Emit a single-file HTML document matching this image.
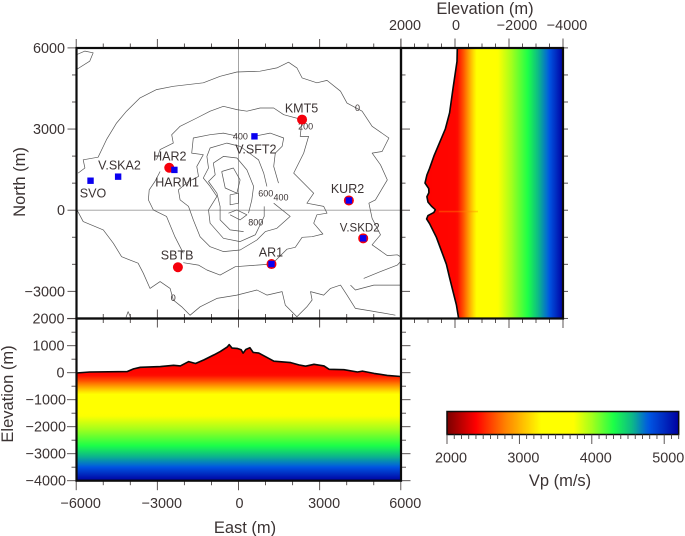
<!DOCTYPE html>
<html lang="en">
<head>
<meta charset="utf-8">
<title>Vp model sections</title>
<style>
html,body{margin:0;padding:0;background:#fff;}
#chart{display:block;position:absolute;left:0;top:0;}
text{font-family:"Liberation Sans",sans-serif;fill:#3b3333;}
</style>
</head>
<body>
<svg id="chart" xmlns="http://www.w3.org/2000/svg" width="685" height="536" viewBox="0 0 685 536"></svg>
<script>
// Topographic contours, flat lists of East,North pairs in metres
const contour0North = [-5930,1370,-5680,1560,-5740,1865,-5190,1960,-5000,2360,-4880,2610,-4510,3220,-4140,3660,-3640,4150,-3030,4460,-2410,4580,-1300,4710,-680,4950,-60,5110,800,5140,1420,5260,1850,5470,2160,5260,2350,4890,2900,4710,3270,4800,3770,4400,4010,3960,4570,3660,4940,3100,5560,2670,5310,2170,4940,2110,5250,1680,5500,1120,5060,380,4820,260,4940,-300,5250,-910,4940,-1280,5500,-1680,5870,-1650,5990,-1720];
const contour0South = [-5970,10,-5740,-420,-5000,-730,-4630,-1220,-4320,-1720,-3710,-1960,-3520,-2330,-3270,-2890,-2900,-2640,-2530,-2890,-2410,-3320,-2100,-3570,-1790,-3880,-1420,-3570,-800,-3260,-60,-3140,680,-2950,1050,-3140,1610,-3010,1730,-3510,2160,-3940,2530,-3570,2720,-3320,2660,-3010,3150,-3140,3400,-2890,3770,-2770,4010,-3140,4320,-3630,4940,-3730,5800,-3880];
const contour0EastA = [4140,-2770,4320,-2950,5000,-2770,5990,-2770];
const contour0EastB = [4630,-2520,5250,-2270,5870,-2030,5990,-1900];
const contour0Islet = [-5990,5750,-5680,5880,-5370,5820,-5500,5510,-5990,5200];
const contour0Loop = [-4160,-3960,-4080,-3750,-3990,-3960];
const contour200North = [2350,3350,1670,3530,1300,3780,800,3780,310,3660,-60,3720,-560,3840,-1050,3660,-1540,3410,-2160,3100,-2470,2790,-2410,2480,-2900,2240,-3030,1865];
const contour200South = [-2900,1430,-3090,1060,-3300,750,-3330,380,-3150,10,-2660,-230,-2350,-980,-2040,-1590];
const contour200East = [-2040,-1940,-1480,-2030,-1170,-2210,-680,-2400,-120,-2090,680,-2030,1240,-1990,1790,-1440,2100,-1370,2350,-1000,2720,-980,3120,-880,2780,-480,2900,-170,3270,-110,3150,140,2530,260,2780,630,2530,880,2040,1370,2410,2110,2590,2730,2280,2730,2350,3350];
const contour400North = [560,2730,1170,2850,1670,2670,1610,2360,1360,2110,1300,1620,1480,1000];
const contour400South = [1300,260,1910,-230,1420,-670,990,-790,680,-1100,60,-1470,-560,-1530,-1050,-1350,-1420,-980,-1670,-360,-1850,140,-2160,380,-2220,750,-1850,1060,-1480,1250,-1540,1620,-1300,2050,-1730,2110,-1670,2670,-1050,2790,-560,2850,-100,2750];
const contour600East = [-1110,10,-1050,-480,-560,-1040,60,-1160,620,-910,950,-230,950,140];
const contour600North = [1050,880,930,1370,740,1865,60,2360,-430,2480,-1050,2300,-1170,1990,-1110,1560,-1300,1190,-1050,880,-800,510,-1110,10];
const contour800Main = [-930,1740,-560,1990,-60,1930,310,1490,560,880,490,380,370,-110];
const contour800South = [190,-790,-310,-730,-680,-360,-680,140,-800,630,-1110,1060,-860,1310,-930,1740];
const contourSummitA = [-620,1430,-190,1560,60,1120,-60,630,-490,820,-620,1430];
const contourSummitB = [-310,570,0,630,0,260,-310,200,-310,570];
const contourCrater = [-370,-110,-60,10,310,-170,60,-360,-310,-170];
const contourSets = [contour0North,contour0South,contour0EastA,contour0EastB,contour0Islet,contour0Loop,contour200North,contour200South,contour200East,contour400North,contour400South,contour600East,contour600North,contour800Main,contour800South,contourSummitA,contourSummitB,contourCrater];

// Contour labels
const contourLabelText = ["0","200","400","600","400","800","0"];
const contourLabelEast = [4400,2480,70,1010,1570,640,-2410];
const contourLabelNorth = [3780,3100,2730,620,470,-460,-3250];

// Stations
const redStationNames = ["HAR2","KMT5","KUR2","V.SKD2","AR1","SBTB"];
const redStationEast = [-2560,2350,4080,4610,1220,-2240];
const redStationNorth = [1570,3350,360,-1040,-1990,-2110];
const blueStationNames = ["SVO","V.SKA2","HARM1","V.SFT2","KUR2","V.SKD2","AR1"];
const blueStationEast = [-5470,-4450,-2370,590,4080,4610,1220];
const blueStationNorth = [1090,1240,1490,2730,360,-1040,-1990];
const stationLabelText = ["KMT5","HAR2","V.SKA2","SVO","HARM1","V.SFT2","KUR2","V.SKD2","SBTB","AR1"];
const stationLabelEast = [2330,-2540,-4400,-5380,-2270,640,4030,4480,-2270,1200];
const stationLabelNorth = [3770,2000,1670,630,1040,2260,810,-630,-1650,-1550];

// Elevation profile along East-West section
const ewEast = [-6000,-5500,-4120,-3880,-3630,-2890,-2400,-2150,-1840,-1590,-1280,-910,-670,-420,-345,-235,-50,100,170,270,420,545,750,1060,1310,1930,2230,2480,2790,3160,3350,3900,4400,4580,5010,5500,6000];
const ewElevation = [-10,25,40,140,200,225,275,250,410,340,475,660,790,950,1040,910,900,850,725,860,925,750,725,560,425,375,290,240,310,250,125,110,25,60,-25,-100,-140];

// Elevation profile along North-South section
const nsNorth = [6000,5500,4500,3600,3000,2500,2000,1550,1300,1000,800,650,500,300,150,20,-80,-200,-320,-500,-1000,-1500,-2000,-2500,-3000,-3500,-4000];
const nsElevation = [-85,-75,75,200,360,570,780,940,1040,1110,975,965,1040,1000,875,730,780,1000,1050,940,690,505,320,200,75,-50,-135];

// Velocity against elevation
const modelElevation = [2000,-80,-350,-600,-800,-1480,-2700,-3070,-3440,-4000];
const modelVp = [2400,2420,2700,3050,3320,3700,4300,4550,4750,5200];

// Colour palette
const paletteVp = [2000,2400,2800,3300,3750,4000,4300,4560,4780,5200];
const paletteColor = ["#7a0000","#ff0000","#ff8000","#ffff00","#ffff00","#a4ff1c","#1cff48","#0cb888","#0058e4","#0000a0"];

// Tick labels and values
const mapEastTicks = [-6000,-3000,0,3000,6000];
const mapNorthTicks = [6000,3000,0,-3000];
const mapNorthTickLabels = ["6000","3000","0","\u22123000"];
const eastTickLabels = ["\u22126000","\u22123000","0","3000","6000"];
const sectionElevTicks = [2000,1000,0,-1000,-2000,-3000,-4000];
const sectionElevLabels = ["2000","1000","0","\u22121000","\u22122000","\u22123000","\u22124000"];
const topElevTicks = [2000,0,-2000,-4000];
const topElevLabels = ["2000","0","\u22122000","\u22124000"];
const barTicks = [2000,3000,4000,5000];
const barLabels = ["2000","3000","4000","5000"];

// Panel geometry and axis functions
const xEast = e => 238.5 + e * 0.02705;
const yNorth = n => 210.2 + -n * 0.02705;
const xElev = z => 455 - z * 0.027;
const yElev = z => 372.7 - z * 0.027;
const xVp = v => 447 + (v - 2000) * 0.0724;
const MAP = {l:76.5, r:401, t:48, b:318.5};

const svg = document.getElementById('chart');
const NS = 'http://www.w3.org/2000/svg';
function make(tag, attrs, parent){
  const n = document.createElementNS(NS, tag);
  for (const k in attrs) n.setAttribute(k, attrs[k]);
  (parent || svg).appendChild(n);
  return n;
}
function group(parent){ return make('g', {}, parent); }
function lerp(a,b,t){ return a+(b-a)*t; }
function hexRgb(h){ return [parseInt(h.substr(1,2),16),parseInt(h.substr(3,2),16),parseInt(h.substr(5,2),16)]; }
function vpColor(v){
  let i = 0;
  while (i < paletteVp.length-2 && v > paletteVp[i+1]) i++;
  const t = Math.max(0,Math.min(1,(v-paletteVp[i])/(paletteVp[i+1]-paletteVp[i])));
  const a = hexRgb(paletteColor[i]), b = hexRgb(paletteColor[i+1]);
  return 'rgb('+Math.round(lerp(a[0],b[0],t))+','+Math.round(lerp(a[1],b[1],t))+','+Math.round(lerp(a[2],b[2],t))+')';
}
function elevToVp(z){
  let i = 0;
  while (i < modelElevation.length-2 && z < modelElevation[i+1]) i++;
  const t = Math.max(0,Math.min(1,(z-modelElevation[i])/(modelElevation[i+1]-modelElevation[i])));
  return lerp(modelVp[i],modelVp[i+1],t);
}
function tick(parent,x1,y1,x2,y2){
  return make('line',{x1:x1,y1:y1,x2:x2,y2:y2,stroke:'#4a4444','stroke-width':0.9},parent);
}
function label(parent,txt,x,y,size,anchor,rot){
  const a = {x:x,y:y,'font-size':size,'text-anchor':anchor||'middle'};
  if (rot) a.transform = 'rotate('+rot+' '+x+' '+y+')';
  const t = make('text',a,parent);
  t.textContent = txt;
  return t;
}

const defs = make('defs',{});
const clip = make('clipPath',{id:'map-clip'},defs);
make('rect',{x:MAP.l,y:MAP.t,width:MAP.r-MAP.l,height:MAP.b-MAP.t},clip);

// Gradients computed from the velocity model
const gradV = make('linearGradient',{id:'grad-vertical',gradientUnits:'userSpaceOnUse',x1:0,x2:0,y1:yElev(2000),y2:yElev(-4000)},defs);
const gradH = make('linearGradient',{id:'grad-horizontal',gradientUnits:'userSpaceOnUse',y1:0,y2:0,x1:xElev(2000),x2:xElev(-4000)},defs);
for (let z = 2000; z >= -4000; z -= 100){
  const off = (2000 - z) / 6000;
  make('stop',{offset:off,'stop-color':vpColor(elevToVp(z))},gradV);
  make('stop',{offset:off,'stop-color':vpColor(elevToVp(z))},gradH);
}
const gradBar = make('linearGradient',{id:'grad-bar',gradientUnits:'userSpaceOnUse',y1:0,y2:0,x1:xVp(2000),x2:xVp(5200)},defs);
for (let v = 2000; v <= 5200; v += 50){
  make('stop',{offset:(v-2000)/3200,'stop-color':vpColor(v)},gradBar);
}

// ---------- Map panel ----------
const mapPanel = group();



const crossV = make('line',{x1:xEast(0),x2:xEast(0),y1:MAP.t,y2:MAP.b,stroke:'#9a9a9a','stroke-width':0.9},mapPanel);


const crossH = make('line',{x1:MAP.l,x2:MAP.r,y1:yNorth(0),y2:yNorth(0),stroke:'#9a9a9a','stroke-width':0.9},mapPanel);



const contourGroup = make('g',{'clip-path':'url(#map-clip)'},mapPanel);


contourSets.forEach(function(c){
  let d = '';
  for (let i = 0; i < c.length; i += 2){
    d += (i ? 'L' : 'M') + xEast(c[i]).toFixed(1) + ' ' + yNorth(c[i+1]).toFixed(1);
  }
  const p = make('path',{d:d,fill:'none',stroke:'#555','stroke-width':0.7,'stroke-linejoin':'round'},contourGroup);
  
  
});
contourLabelText.forEach(function(t,i){
  const n = label(mapPanel,t,xEast(contourLabelEast[i]),yNorth(contourLabelNorth[i])+3,9);
  
  
});

redStationNames.forEach(function(s,i){
  const c = make('circle',{cx:xEast(redStationEast[i]),cy:yNorth(redStationNorth[i]),r:5,fill:'#f5000c'},mapPanel);
  
  
});
blueStationNames.forEach(function(s,i){
  const r = make('rect',{x:xEast(blueStationEast[i])-3.2,y:yNorth(blueStationNorth[i])-3.2,width:6.4,height:6.4,fill:'#0a00f0'},mapPanel);
  
  
});
stationLabelText.forEach(function(t,i){
  const n = label(mapPanel,t,xEast(stationLabelEast[i]),yNorth(stationLabelNorth[i])+4.5,t==='V.SKD2'?11.5:12.5);
  
  
});

// Map ticks
const mapTicks = group(mapPanel);


for (let e = -6000; e <= 6000; e += 1000){
  const len = e % 3000 === 0 ? 9 : 4.5;
  tick(mapTicks,xEast(e),MAP.t,xEast(e),MAP.t-len);
  tick(mapTicks,xEast(e),MAP.b,xEast(e),MAP.b-len);
  tick(mapTicks,xEast(e),MAP.b,xEast(e),MAP.b+len);
}
for (let n = -3000 - 1000; n <= 6000; n += 1000){
  const len = n % 3000 === 0 || n === -4000 ? 9 : 4.5;
  tick(mapTicks,MAP.l,yNorth(n),MAP.l-len,yNorth(n));
  tick(mapTicks,MAP.r,yNorth(n),MAP.r+len,yNorth(n));
}
mapNorthTicks.forEach(function(n,i){
  const t = label(mapPanel,mapNorthTickLabels[i],65,yNorth(n)+5,14.4,'end');
  
  
});
const northTitle = label(mapPanel,'North (m)',25,182,16.5,'middle',-90);



// ---------- North-South section ----------
const nsPanel = group();


let nsLine = '';
nsNorth.forEach(function(n,i){
  nsLine += (i ? 'L' : 'M') + xElev(nsElevation[i]).toFixed(1) + ' ' + yNorth(n).toFixed(1);
});
const nsFill = make('path',{d:nsLine + 'L' + xElev(-4000) + ' ' + yNorth(nsNorth[nsNorth.length-1]) + 'L' + xElev(-4000) + ' ' + yNorth(nsNorth[0]) + 'Z',fill:'url(#grad-horizontal)'},nsPanel);


const nsStreak = make('rect',{x:xElev(600),y:yNorth(-20),width:xElev(-850)-xElev(600),height:1.6,fill:'#ff8a00',opacity:0.4},nsPanel);


const nsTopo = make('path',{d:nsLine,fill:'none',stroke:'#0a0a0a','stroke-width':1.6,'stroke-linejoin':'round'},nsPanel);


const nsTicks = group(nsPanel);


for (let z = 2000; z >= -4000; z -= 500){
  const len = z % 2000 === 0 ? 9.5 : 4.5;
  tick(nsTicks,xElev(z),MAP.t,xElev(z),MAP.t-len);
  tick(nsTicks,xElev(z),MAP.b,xElev(z),MAP.b+len);
}
for (let n = -4000; n <= 6000; n += 1000){
  tick(nsTicks,xElev(-4000),yNorth(n),xElev(-4000)+5,yNorth(n));
}
topElevTicks.forEach(function(z,i){
  const t = label(nsPanel,topElevLabels[i],xElev(z)+(z===0?1:z===-2000?8:4),30,14.4);
  
  
});
const topTitle = label(nsPanel,'Elevation (m)',485,14,16.5);



// ---------- East-West section ----------
const ewPanel = group();


let ewLine = '';
ewEast.forEach(function(e,i){
  ewLine += (i ? 'L' : 'M') + xEast(e).toFixed(1) + ' ' + yElev(ewElevation[i]).toFixed(1);
});
const ewFill = make('path',{d:ewLine + 'L' + xEast(ewEast[ewEast.length-1]) + ' ' + yElev(-4000) + 'L' + xEast(ewEast[0]) + ' ' + yElev(-4000) + 'Z',fill:'url(#grad-vertical)'},ewPanel);


const ewTopo = make('path',{d:ewLine,fill:'none',stroke:'#0a0a0a','stroke-width':1.6,'stroke-linejoin':'round'},ewPanel);


const ewTicks = group(ewPanel);


for (let z = 2000; z >= -4000; z -= 500){
  const len = z % 1000 === 0 ? 9.5 : 5;
  tick(ewTicks,MAP.l,yElev(z),MAP.l-len,yElev(z));
  tick(ewTicks,MAP.r,yElev(z),MAP.r+len,yElev(z));
}
for (let e = -6000; e <= 6000; e += 1000){
  tick(ewTicks,xEast(e),yElev(-4000),xEast(e),yElev(-4000)+(e % 3000 === 0 ? 9.5 : 4.5));
}
sectionElevTicks.forEach(function(z,i){
  const t = label(ewPanel,sectionElevLabels[i],z<0?66:64.5,yElev(z)+5,14.4,'end');
  
  
});
mapEastTicks.forEach(function(e,i){
  const t = label(ewPanel,eastTickLabels[i],xEast(e)+(e===0?1:4.5),508,14.4);
  
  
});
const elevTitle = label(ewPanel,'Elevation (m)',13,394,16.5,'middle',-90);


const eastTitle = label(ewPanel,'East (m)',245,533,16.5);



// ---------- Frames ----------
const frameMap = make('rect',{x:MAP.l,y:MAP.t,width:MAP.r-MAP.l,height:MAP.b-MAP.t,fill:'none',stroke:'#0c0c0c','stroke-width':2.2},svg);


const frameNs = make('rect',{x:MAP.r,y:MAP.t,width:xElev(-4000)-MAP.r,height:MAP.b-MAP.t,fill:'none',stroke:'#0c0c0c','stroke-width':2.2},svg);


const frameEw = make('rect',{x:MAP.l,y:MAP.b,width:MAP.r-MAP.l,height:yElev(-4000)-MAP.b,fill:'none',stroke:'#0c0c0c','stroke-width':2.2},svg);



// ---------- Colour bar ----------
const bar = group();


const barRect = make('rect',{x:xVp(2000),y:411.5,width:xVp(5200)-xVp(2000),height:23,fill:'url(#grad-bar)',stroke:'#0c0c0c','stroke-width':1.5},bar);


const barTickGroup = group(bar);


for (let v = 2000; v <= 5200; v += 100){
  tick(barTickGroup,xVp(v),434.5,xVp(v),434.5+(v % 1000 === 0 ? 9.5 : 4.5));
}
barTicks.forEach(function(v,i){
  const t = label(bar,barLabels[i],xVp(v)+4,462.5,14.4);
  
  
});
const barTitle = label(bar,'Vp (m/s)',560,486,16.5);


</script>
</body>
</html>
